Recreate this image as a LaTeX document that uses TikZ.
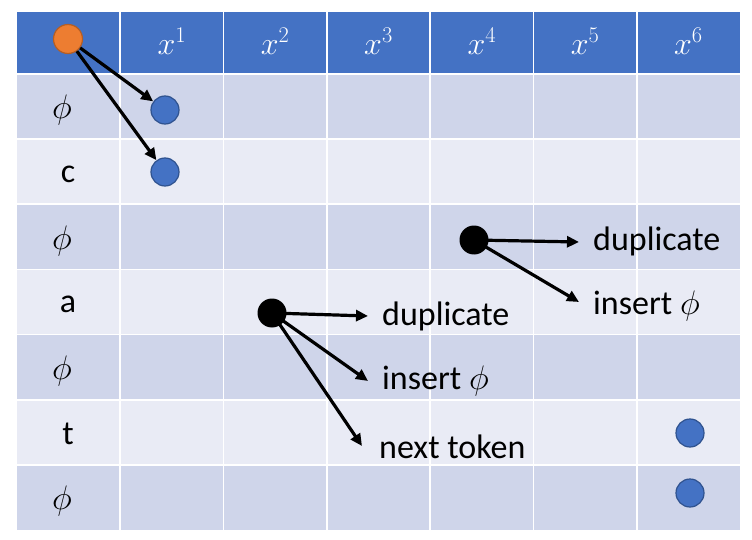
\RequirePackage{fix-cm}
\documentclass[tikz,border=0pt]{standalone}
\usepackage{fontspec}
\setmainfont{Carlito}
\usetikzlibrary{arrows.meta}
\definecolor{hdr}{HTML}{4472C4}
\definecolor{rowA}{HTML}{CFD5EA}
\definecolor{rowB}{HTML}{E9EBF5}
\definecolor{orangeF}{HTML}{ED7D31}
\definecolor{orangeD}{HTML}{B55E24}
\definecolor{blueD}{HTML}{2F528F}
\begin{document}
\begin{tikzpicture}[x=1pt,y=-1pt,
  bluedot/.style={circle,fill=hdr,draw=blueD,line width=1.2pt,minimum size=28pt,inner sep=0pt},
  blackdot/.style={circle,fill=black,minimum size=29pt,inner sep=0pt},
  orangedot/.style={circle,fill=orangeF,draw=orangeD,line width=1.2pt,minimum size=29pt,inner sep=0pt},
  arr/.style={line width=3.2pt,-{Triangle[length=12pt,width=11pt]}},
  lbl/.style={font=\fontsize{34}{40}\selectfont,anchor=west,inner sep=0pt},
  hlbl/.style={font=\fontsize{32}{38}\selectfont,text=white,inner sep=0pt},
  rlbl/.style={font=\fontsize{34}{40}\selectfont,inner sep=0pt}]
\useasboundingbox (0,0) rectangle (752,540);
\fill[hdr] (17,12) rectangle (740,74);
\foreach \i in {0,...,6}{
  \pgfmathsetmacro{\ya}{74+\i*65.14}
  \pgfmathsetmacro{\yb}{74+(\i+1)*65.14}
  \ifodd\i \fill[rowB] (17,\ya) rectangle (740,\yb); \else \fill[rowA] (17,\ya) rectangle (740,\yb); \fi
}
\foreach \k in {1,...,6}{
  \draw[white,line width=1.6pt] ({17+\k*103.29},12) -- ({17+\k*103.29},530);
}
\foreach \i in {0,...,6}{
  \draw[white,line width=1.6pt] (17,{74+\i*65.14}) -- (740,{74+\i*65.14});
}
% header labels
\foreach \k in {1,...,6}{
  \node[hlbl] (h\k) at ({17+103.29*(\k+0.5)},41) {$x^{\k}$};
}
% row labels
\node[rlbl] (r1) at (62,110) {$\phi$};
\node[rlbl] (r2) at (68,174) {c};
\node[rlbl] (r3) at (62,241) {$\phi$};
\node[rlbl] (r4) at (68,304) {a};
\node[rlbl] (r5) at (62,371) {$\phi$};
\node[rlbl] (r6) at (68,434) {t};
\node[rlbl] (r7) at (62,501) {$\phi$};
% dots
\node[orangedot] (o) at (68,39) {};
\node[bluedot] (b1) at (165,110) {};
\node[bluedot] (b2) at (165,172) {};
\node[bluedot] (b3) at (690,433) {};
\node[bluedot] (b4) at (690,493) {};
\node[blackdot] (d1) at (272,313) {};
\node[blackdot] (d2) at (474,240) {};
% arrows from orange
\draw[arr] (o) -- (b1);
\draw[arr] (o) -- (b2);
% dot 1 arrows
\coordinate (e11) at (368,316);
\coordinate (e12) at (368,381);
\coordinate (e13) at (362,446);
\draw[arr] (d1.center) -- (e11);
\draw[arr] (d1.center) -- (e12);
\draw[arr] (d1.center) -- (e13);
\node[lbl] (l11) at (382,316) {duplicate};
\node[lbl] (l12) at (382,381) {insert $\phi$};
\node[lbl] (l13) at (379,447) {next token};
% dot 2 arrows
\coordinate (e21) at (579,242);
\coordinate (e22) at (579,302);
\draw[arr] (d2.center) -- (e21);
\draw[arr] (d2.center) -- (e22);
\node[lbl] (l21) at (593,241) {duplicate};
\node[lbl] (l22) at (593,306) {insert $\phi$};
\end{tikzpicture}
\end{document}
